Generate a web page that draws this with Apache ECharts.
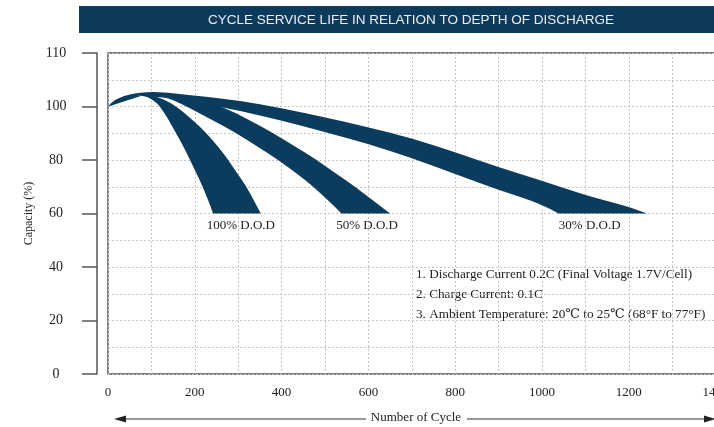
<!DOCTYPE html>
<html lang="en">
<head>
  <meta charset="UTF-8">
  <title>Cycle service life</title>
  <script src="https://cdn.jsdelivr.net/npm/echarts@6.0.0/dist/echarts.min.js"></script>
  <style>
    html, body { margin: 0; padding: 0; background: #fff; }
    #chart { width: 714px; height: 427px; }
  </style>
</head>
<body>
  <div id="chart"></div>
  <script>
    // band outlines: [cycles, capacity %], one edge out and the other edge back
    const dodNames = ['100% D.O.D', '50% D.O.D', '30% D.O.D'];
    const dodLabelCycles = [306, 597, 1110];

    const dod100Outer = [[0, 100], [12, 101], [30, 102.6], [55, 103.7], [75, 104.1], [92, 103.5],
      [106, 102.2], [120, 100], [138, 95.5], [157, 90], [174, 85], [189, 80], [204, 75], [218, 70], [231, 65], [242, 60]];
    const dod100Inner = [[352, 60], [336, 65], [319, 70], [298, 75], [277, 80], [254, 85], [227, 90],
      [195, 95], [158, 100], [130, 102.6], [105, 104], [85, 104.4]];

    const dod50Outer = [[95, 104.6], [120, 104], [145, 102.8], [181, 100], [240, 95], [296, 90],
      [345, 85], [392, 80], [435, 75], [473, 70], [507, 65], [538, 60]];
    const dod50Inner = [[650, 60], [610, 65], [569, 70], [525, 75], [481, 80], [432, 85], [381, 90],
      [325, 95], [265, 100], [200, 102.7], [150, 104.2], [110, 104.9]];

    const dod30Outer = [[0, 100], [8, 101.5], [25, 103.3], [50, 104.6], [80, 105.3], [120, 105.5],
      [200, 104.1], [300, 102.3], [400, 99.4], [500, 96], [600, 92.2], [700, 88.1], [800, 82.9],
      [900, 77.3], [1000, 72.3], [1100, 66.8], [1200, 62.5], [1242, 60]];
    const dod30Inner = [[1038, 60], [1000, 63.5], [900, 68.8], [800, 74.8], [700, 80.8], [600, 86],
      [500, 90.4], [400, 94.8], [300, 98.5], [200, 101.6], [150, 102.9], [100, 103.8], [70, 104]];

    const capacityTicks = [0, 20, 40, 60, 80, 100, 120];
    const capacityTickLabels = ['0', '20', '40', '60', '80', '100', '110'];

    const notes = [
      '1. Discharge Current 0.2C (Final Voltage 1.7V/Cell)',
      '2. Charge Current: 0.1C',
      '3. Ambient Temperature: 20℃ to 25℃ (68°F to 77°F)'
    ];

    const bandColor = '#0b3c5d';
    const serif = '"Liberation Serif", "DejaVu Serif", serif';

    // rounded edge through midpoints, endpoints kept sharp
    function edgePath(p, first) {
      let d = (first ? 'M' : 'L') + p[0][0] + ' ' + p[0][1];
      for (let i = 1; i < p.length - 1; i++) {
        const mx = (p[i][0] + p[i + 1][0]) / 2, my = (p[i][1] + p[i + 1][1]) / 2;
        d += ' Q' + p[i][0] + ' ' + p[i][1] + ' ' + mx + ' ' + my;
      }
      const last = p[p.length - 1];
      return d + ' L' + last[0] + ' ' + last[1];
    }

    function bandSeries(name, labelCycle, outer, inner) {
      const pts = outer.concat(inner);
      return {
        type: 'custom',
        name: name,
        xAxisIndex: 0,
        yAxisIndex: 0,
        clip: false,
        data: pts,
        renderItem: function (params, api) {
          if (params.dataIndex !== 0) return null;
          const a = outer.map(p => api.coord(p));
          const b = inner.map(p => api.coord(p));
          const lp = api.coord([labelCycle, 55.4]);
          return {
            type: 'group',
            children: [
              { type: 'path', shape: { pathData: edgePath(a, true) + ' ' + edgePath(b, false) + ' Z' }, style: { fill: bandColor } },
              {
                type: 'text', x: lp[0], y: lp[1],
                style: { text: name, font: '13px ' + serif, fill: '#222', align: 'center', verticalAlign: 'middle' }
              }
            ]
          };
        }
      };
    }

    const chart = echarts.init(document.getElementById('chart'), null, { renderer: 'canvas' });

    const option = {
      animation: false,
      grid: {
        left: 108, top: 53, width: 651, height: 321,
        containLabel: false, outerBoundsMode: 'none',
        show: true, borderColor: '#555', borderWidth: 1.5, backgroundColor: 'transparent'
      },
      xAxis: {
        type: 'value', min: 0, max: 1500, interval: 100,
        axisLine: { show: false },
        axisTick: { show: false },
        splitLine: { lineStyle: { color: '#c4c4c4', type: [2, 2], width: 1 } },
        axisLabel: {
          interval: 1, margin: 12, color: '#222', fontFamily: serif, fontSize: 13,
          formatter: v => (v % 200 === 0 ? String(v) : '')
        }
      },
      yAxis: [
        {
          type: 'value', min: 0, max: 120, interval: 10,
          axisLine: { show: false },
          axisTick: { show: false },
          axisLabel: { show: false },
          splitLine: { lineStyle: { color: '#c4c4c4', type: [2, 2], width: 1 } }
        },
        {
          type: 'value', min: 0, max: 120, interval: 20,
          position: 'left', offset: 11,
          name: 'Capacity (%)', nameLocation: 'middle', nameGap: 60, nameRotate: 90,
          nameTextStyle: { fontFamily: serif, fontSize: 12, color: '#222' },
          axisLine: { show: true, lineStyle: { color: '#555', width: 1.5 } },
          axisTick: { show: true, length: 15, lineStyle: { color: '#555', width: 1.5 } },
          splitLine: { show: false },
          axisLabel: {
            margin: 41, align: 'center', color: '#222', fontFamily: serif, fontSize: 14,
            formatter: v => capacityTickLabels[capacityTicks.indexOf(v)] || ''
          }
        }
      ],
      series: [
        bandSeries(dodNames[2], dodLabelCycles[2], dod30Outer, dod30Inner),
        bandSeries(dodNames[1], dodLabelCycles[1], dod50Outer, dod50Inner),
        bandSeries(dodNames[0], dodLabelCycles[0], dod100Outer, dod100Inner)
      ],
      graphic: [
        { type: 'rect', shape: { x: 79, y: 6, width: 640, height: 27 }, style: { fill: '#0c3a5b' } },
        {
          type: 'text', x: 411, y: 20,
          style: {
            text: 'CYCLE SERVICE LIFE IN RELATION TO DEPTH OF DISCHARGE',
            font: '13.5px "Liberation Sans", Arial, sans-serif', fill: '#e9eff4',
            align: 'center', verticalAlign: 'middle'
          }
        },
        // x-axis caption with arrows
        {
          type: 'text', x: 416, y: 418,
          style: { text: 'Number of Cycle', font: '13px ' + serif, fill: '#222', align: 'center', verticalAlign: 'middle' }
        },
        { type: 'line', shape: { x1: 122, y1: 419, x2: 366, y2: 419 }, style: { stroke: '#333', lineWidth: 1.2 } },
        { type: 'polygon', shape: { points: [[114, 419], [126, 415.5], [126, 422.5]] }, style: { fill: '#222' } },
        { type: 'line', shape: { x1: 467, y1: 419, x2: 708, y2: 419 }, style: { stroke: '#333', lineWidth: 1.2 } },
        { type: 'polygon', shape: { points: [[716, 419], [704, 415.5], [704, 422.5]] }, style: { fill: '#222' } },
        {
          type: 'text', x: 416, y: 265,
          style: { text: notes.join('\n'), font: '13.2px ' + serif, fill: '#222', lineHeight: 20 }
        }
      ]
    };

    chart.setOption(option);
  </script>
</body>
</html>
